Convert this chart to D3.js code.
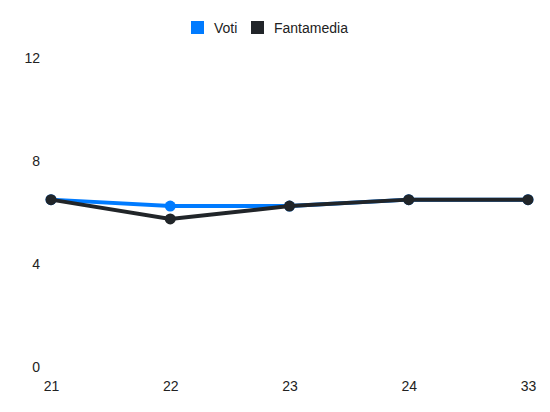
<!DOCTYPE html>
<html>
<head>
<meta charset="utf-8">
<script src="https://cdn.jsdelivr.net/npm/d3@7"></script>
<style>
  body { margin: 0; background: #fff; }
  text { font-family: "Liberation Sans", Arial, sans-serif; }
</style>
</head>
<body>
<svg id="chart"></svg>
<script>
// chart data
const giornate = ["21", "22", "23", "24", "33"];
const voti = [6.5, 6.25, 6.25, 6.5, 6.5];
const fantamedia = [6.5, 5.75, 6.25, 6.5, 6.5];
const yTicks = [0, 4, 8, 12];

const seriesNames = ["Voti", "Fantamedia"];
const seriesColors = ["#007bff", "#212529"];

document.addEventListener('DOMContentLoaded', function() {
    const width = 550;
    const height = 412;

    const svg = d3.select("#chart")
        .attr("width", width)
        .attr("height", height);

    const x = d3.scalePoint()
        .domain(giornate)
        .range([51, 528]);

    const y = d3.scaleLinear()
        .domain([0, 12])
        .range([367, 58]);

    // y axis labels
    const yAxis = d3.axisLeft(y).tickValues(yTicks).tickSize(0).tickPadding(0);
    svg.append("g")
        .attr("transform", "translate(40,0)")
        .call(yAxis)
        .call(g => g.select(".domain").remove())
        .selectAll("text")
        .attr("font-size", 14)
        .attr("fill", "#222");

    // x axis labels
    const xAxis = d3.axisBottom(x).tickSize(0).tickPadding(0);
    svg.append("g")
        .attr("transform", "translate(0,381)")
        .call(xAxis)
        .call(g => g.select(".domain").remove())
        .selectAll("text")
        .attr("font-size", 14)
        .attr("fill", "#222");

    const line = d3.line()
        .x((d, i) => x(giornate[i]))
        .y(d => y(d));

    const allSeries = [voti, fantamedia];

    allSeries.forEach((values, s) => {
        svg.append("path")
            .datum(values)
            .attr("fill", "none")
            .attr("stroke", seriesColors[s])
            .attr("stroke-width", 4)
            .attr("d", line);

        svg.selectAll(".pt" + s)
            .data(values)
            .enter().append("circle")
            .attr("class", "pt" + s)
            .attr("cx", (d, i) => x(giornate[i]))
            .attr("cy", d => y(d))
            .attr("r", 5.5)
            .attr("fill", seriesColors[s]);
    });

    // Legend
    const legendX = [191, 251];
    const legend = svg.selectAll(".legend")
        .data(seriesNames)
        .enter().append("g")
        .attr("class", "legend")
        .attr("transform", (d, i) => `translate(${legendX[i]},21)`);

    legend.append("rect")
        .attr("width", 13)
        .attr("height", 13)
        .attr("fill", (d, i) => seriesColors[i]);

    legend.append("text")
        .attr("x", 23)
        .attr("y", 7)
        .attr("dy", ".35em")
        .attr("font-size", 14)
        .attr("fill", "#222")
        .text(d => d);
});
</script>
</body>
</html>
